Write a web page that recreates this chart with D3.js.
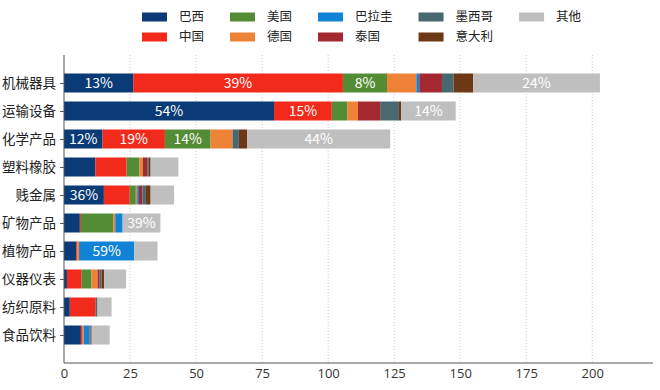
<!DOCTYPE html>
<html>
<head>
<meta charset="utf-8">
<script src="https://cdn.jsdelivr.net/npm/d3@7"></script>
<style>
  body { margin: 0; background: #fff; }
  text { font-family: "Noto Sans CJK SC", "Open Sans", sans-serif; }
</style>
</head>
<body>
<div id="chart"></div>
<script>
const categories = ['机械器具', '运输设备', '化学产品', '塑料橡胶', '贱金属', '矿物产品', '植物产品', '仪器仪表', '纺织原料', '食品饮料'];
const seriesNames = ['巴西', '中国', '美国', '德国', '巴拉圭', '泰国', '墨西哥', '意大利', '其他'];

// values per series, in category order
const brazil   = [26.2, 79.5, 14.6, 11.9, 15.1, 6.0, 4.6, 1.1, 2.2, 6.4];
const china    = [79.4, 21.9, 23.6, 11.8, 9.8, 0.4, 0.5, 5.6, 9.7, 0.4];
const usa      = [16.7, 5.9, 17.3, 4.9, 2.3, 12.3, 0, 3.7, 0, 0];
const germany  = [11.1, 4.0, 8.3, 1.3, 0.5, 0.7, 0.6, 2.3, 0, 0.7];
const paraguay = [1.1, 0, 0, 0, 0.7, 2.8, 20.9, 0, 0, 2.2];
const thailand = [8.6, 8.4, 0, 1.6, 1.3, 0, 0, 0.8, 0.2, 0.4];
const mexico   = [4.4, 7.1, 2.4, 0.6, 1.3, 0, 0, 0.7, 0.6, 0.4];
const italy    = [7.4, 0.9, 3.1, 0.7, 1.8, 0, 0, 1.0, 0, 0];
const others   = [48.0, 20.6, 54.2, 10.5, 8.9, 14.3, 8.8, 8.3, 5.3, 6.8];

const xTicks = [0, 25, 50, 75, 100, 125, 150, 175, 200];

const seriesValues = [brazil, china, usa, germany, paraguay, thailand, mexico, italy, others];
const colors = ['#0a3b76', '#f22a1b', '#548b35', '#ee8236', '#1183d6', '#a4282f', '#48676e', '#6d3816', '#bfbfbf'];

const width = 660, height = 390;
const mLeft = 64, mRight = 653, mTop = 55, mBottom = 363;

const svg = d3.select('#chart').append('svg')
  .attr('width', width)
  .attr('height', height);

// build rows for the stack
const rows = categories.map((c, i) => {
  const r = { cat: c };
  seriesNames.forEach((s, j) => r[s] = seriesValues[j][i]);
  return r;
});
const totals = rows.map(r => d3.sum(seriesNames, s => r[s]));

const x = d3.scaleLinear().domain([0, 223]).range([mLeft, mRight]);
const y = d3.scalePoint().domain(categories).range([mTop, mBottom]).padding(1);
const barH = 19;

// grid
svg.append('g').selectAll('line')
  .data(xTicks.filter(t => t > 0))
  .enter().append('line')
  .attr('x1', d => x(d)).attr('x2', d => x(d))
  .attr('y1', mTop).attr('y2', mBottom)
  .attr('stroke', '#c8c8c8')
  .attr('stroke-width', 1)
  .attr('stroke-dasharray', '1,2');

const stack = d3.stack().keys(seriesNames);
const layers = stack(rows);

const g = svg.append('g');
layers.forEach((layer, li) => {
  g.append('g').attr('fill', colors[li])
    .selectAll('rect')
    .data(layer)
    .enter().append('rect')
    .attr('x', d => x(d[0]))
    .attr('y', d => y(d.data.cat) - barH / 2)
    .attr('width', d => Math.max(0, x(d[1]) - x(d[0])))
    .attr('height', barH);
});

// percent labels on wide segments
layers.forEach((layer, li) => {
  g.append('g').selectAll('text')
    .data(layer.filter(d => x(d[1]) - x(d[0]) > 35))
    .enter().append('text')
    .attr('x', d => (x(d[0]) + x(d[1])) / 2)
    .attr('y', d => y(d.data.cat))
    .attr('dy', '0.35em')
    .attr('text-anchor', 'middle')
    .attr('fill', '#fff')
    .style('font-size', '14px')
    .text(d => Math.round((d[1] - d[0]) / totals[categories.indexOf(d.data.cat)] * 100) + '%');
});

// x axis
const xAxis = svg.append('g')
  .attr('transform', `translate(0,${mBottom})`)
  .call(d3.axisBottom(x).tickValues(xTicks).tickSize(0).tickPadding(6));
xAxis.select('.domain').attr('stroke', '#555').attr('d', `M${mLeft},0H${mRight}`);
xAxis.selectAll('text').style('font-size', '13px').attr('fill', '#333')
  .style('font-family', '"Open Sans", "Noto Sans CJK SC", sans-serif');

// y axis
const yAxis = svg.append('g')
  .attr('transform', `translate(${mLeft},0)`)
  .call(d3.axisLeft(y).tickSize(4).tickPadding(4));
yAxis.select('.domain').attr('stroke', '#555').attr('d', `M0,${mTop}V${mBottom}`);
yAxis.selectAll('line').attr('stroke', '#555');
yAxis.selectAll('text').style('font-size', '13.5px').attr('fill', '#222');

// legend, column-major in two rows
const legend = svg.append('g');
let lx = 142;
for (let c = 0; c < Math.ceil(seriesNames.length / 2); c++) {
  let colW = 0;
  for (let r = 0; r < 2; r++) {
    const i = c * 2 + r;
    if (i >= seriesNames.length) break;
    const ly = 17 + r * 20;
    legend.append('rect')
      .attr('x', lx).attr('y', ly - 4.5)
      .attr('width', 25).attr('height', 9)
      .attr('fill', colors[i]);
    const t = legend.append('text')
      .attr('x', lx + 37).attr('y', ly)
      .attr('dy', '0.35em')
      .attr('fill', '#222')
      .style('font-size', '12.5px')
      .text(seriesNames[i]);
    colW = Math.max(colW, t.node().getComputedTextLength());
  }
  lx += 37 + colW + 26;
}
</script>
</body>
</html>
